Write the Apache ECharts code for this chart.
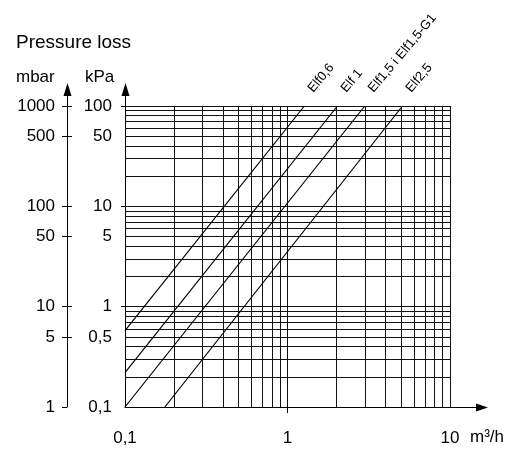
<!DOCTYPE html>
<html><head><meta charset="utf-8">
<script src="https://cdn.jsdelivr.net/npm/echarts@6/dist/echarts.min.js"></script>
<style>html,body{margin:0;padding:0;background:#fff}#c{width:517px;height:449px}</style>
</head><body><div id="c"></div>
<script>
// ---- data (flow m3/h, pressure loss kPa) ----
const seriesNames = ['Elf0,6', 'Elf 1', 'Elf1,5 i Elf1,5-G1', 'Elf2,5'];
const flowElf06 = [0.1, 1.27];
const lossElf06 = [0.576, 100];
const flowElf1 = [0.1, 2.03];
const lossElf1 = [0.22, 100];
const flowElf15 = [0.1, 2.99];
const lossElf15 = [0.1, 100];
const flowElf25 = [0.176, 5.1];
const lossElf25 = [0.1, 100];
const xTickLabels = [0.1, 1, 10];
const kPaTickLabels = [0.1, 0.5, 1, 5, 10, 50, 100];
const mbarTickLabels = [1, 5, 10, 50, 100, 500, 1000];

const FONT = '"Liberation Sans", Arial, Helvetica, sans-serif';
const chart = echarts.init(document.getElementById('c'), null, {renderer: 'canvas'});
const zip = (a, b) => a.map((v, i) => [v, b[i]]);
const lineData = [zip(flowElf06, lossElf06), zip(flowElf1, lossElf1), zip(flowElf15, lossElf15), zip(flowElf25, lossElf25)];
const gridX = [], gridY = [];
for (const d of [0.1, 1]) for (let k = 2; k <= 10; k++) gridX.push(+(d * k).toFixed(2));
for (const d of [0.1, 1, 10]) for (let k = 2; k <= 10; k++) gridY.push(+(d * k).toFixed(2));
const fmt = v => String(v).replace('.', ',');
const lblStyle = {fontFamily: FONT, fontSize: 17, color: '#000'};
const AX = '#000';
const W = 517, H = 449, GL = 125, GR = 67, GT = 106, GB = 42;
const plotW = W - GL - GR, plotH = H - GT - GB;

const option = {
  animation: false,
  backgroundColor: '#fff',
  title: {text: 'Pressure loss', left: 16, top: 33, padding: 0,
    textStyle: {fontFamily: FONT, fontSize: 19, fontWeight: 'normal', color: '#000'}},
  grid: {left: GL, right: GR, top: GT, bottom: GB, containLabel: false, outerBoundsMode: 'none'},
  xAxis: [
    {
      type: 'log', logBase: 10, min: 0.1, max: 10,
      axisLine: {show: true, lineStyle: {color: AX, width: 1}},
      axisTick: {show: true, customValues: [1], length: 6, lineStyle: {color: AX}},
      axisLabel: Object.assign({customValues: xTickLabels, formatter: fmt, margin: 23}, lblStyle),
      splitLine: {show: false}, minorTick: {show: false}, minorSplitLine: {show: false}
    },
    {
      type: 'log', logBase: 10, min: 0.1, max: 10, position: 'bottom',
      axisLine: {show: false}, axisLabel: {show: false}, splitLine: {show: false},
      axisTick: {show: true, inside: true, customValues: gridX, length: plotH, lineStyle: {color: '#111', width: 1}}
    }
  ],
  yAxis: [
    {
      type: 'log', logBase: 10, min: 0.1, max: 100, position: 'left',
      axisLine: {show: true, lineStyle: {color: AX, width: 1}},
      axisTick: {show: true, customValues: [1, 10, 100], length: 4, lineStyle: {color: AX}},
      axisLabel: Object.assign({customValues: kPaTickLabels, formatter: fmt, margin: 13}, lblStyle),
      splitLine: {show: false}
    },
    {
      type: 'log', logBase: 10, min: 1, max: 1000, position: 'left', offset: 58,
      axisLine: {show: true, lineStyle: {color: AX, width: 1}},
      axisTick: {show: true, customValues: mbarTickLabels, length: 5, lineStyle: {color: AX}},
      axisLabel: Object.assign({customValues: mbarTickLabels, formatter: fmt, margin: 12}, lblStyle),
      splitLine: {show: false}
    },
    {
      type: 'log', logBase: 10, min: 1, max: 1000, position: 'left', offset: 58,
      axisLine: {show: false},
      axisTick: {show: true, inside: true, customValues: [5, 10, 50, 100, 500, 1000], length: 5, lineStyle: {color: AX}},
      axisLabel: {show: false},
      splitLine: {show: false}
    },
    {
      type: 'log', logBase: 10, min: 0.1, max: 100, position: 'left',
      axisLine: {show: false}, axisLabel: {show: false}, splitLine: {show: false},
      axisTick: {show: true, inside: true, customValues: gridY, length: plotW, lineStyle: {color: '#111', width: 1}}
    }
  ],
  series: lineData.map((d, i) => ({
    type: 'line', name: seriesNames[i], data: d, showSymbol: false, symbol: 'none', z: 3,
    lineStyle: {color: '#000', width: 1.2}, silent: true
  }))
};
chart.setOption(option);

const p = (x, y) => chart.convertToPixel({xAxisIndex: 0, yAxisIndex: 0}, [x, y]);
const o = p(0.1, 0.1), tr = p(10, 100);
const x0 = Math.round(o[0]) + 0.5, y0 = Math.round(o[1]) + 0.5, xR = tr[0], yT = tr[1];
const mbarX = x0 - 58;
const g = [];
const ls = {stroke: '#000', lineWidth: 1};
function vArrow(x) {
  g.push({type: 'line', shape: {x1: x, y1: yT, x2: x, y2: yT - 14}, style: ls, silent: true});
  g.push({type: 'polygon', shape: {points: [[x, yT - 23], [x - 4, yT - 10], [x + 4, yT - 10]]}, style: {fill: '#000'}, silent: true});
}
vArrow(x0); vArrow(mbarX);
g.push({type: 'line', shape: {x1: xR, y1: y0, x2: xR + 30, y2: y0}, style: ls, silent: true});
g.push({type: 'polygon', shape: {points: [[xR + 38, y0], [xR + 26, y0 - 4], [xR + 26, y0 + 4]]}, style: {fill: '#000'}, silent: true});
g.push({type: 'text', x: 16, y: 86, style: {text: 'mbar', font: '17px ' + FONT, fill: '#000', textAlign: 'left', textVerticalAlign: 'bottom'}, silent: true});
g.push({type: 'text', x: 85, y: 86, style: {text: 'kPa', font: '17px ' + FONT, fill: '#000', textAlign: 'left', textVerticalAlign: 'bottom'}, silent: true});
g.push({type: 'text', x: xR + 20, y: y0 + 30, style: {text: 'm³/h', font: '17px ' + FONT, fill: '#000', textAlign: 'left', textVerticalAlign: 'middle'}, silent: true});
lineData.forEach((d, i) => {
  const q = p(d[d.length - 1][0], d[d.length - 1][1]);
  g.push({type: 'text', x: q[0] + 11, y: q[1] - 11, rotation: 50 * Math.PI / 180,
    style: {text: seriesNames[i], font: '13px ' + FONT, fill: '#000', textAlign: 'left', textVerticalAlign: 'bottom'}, silent: true});
});
chart.setOption({graphic: g});
</script>
</body></html>
